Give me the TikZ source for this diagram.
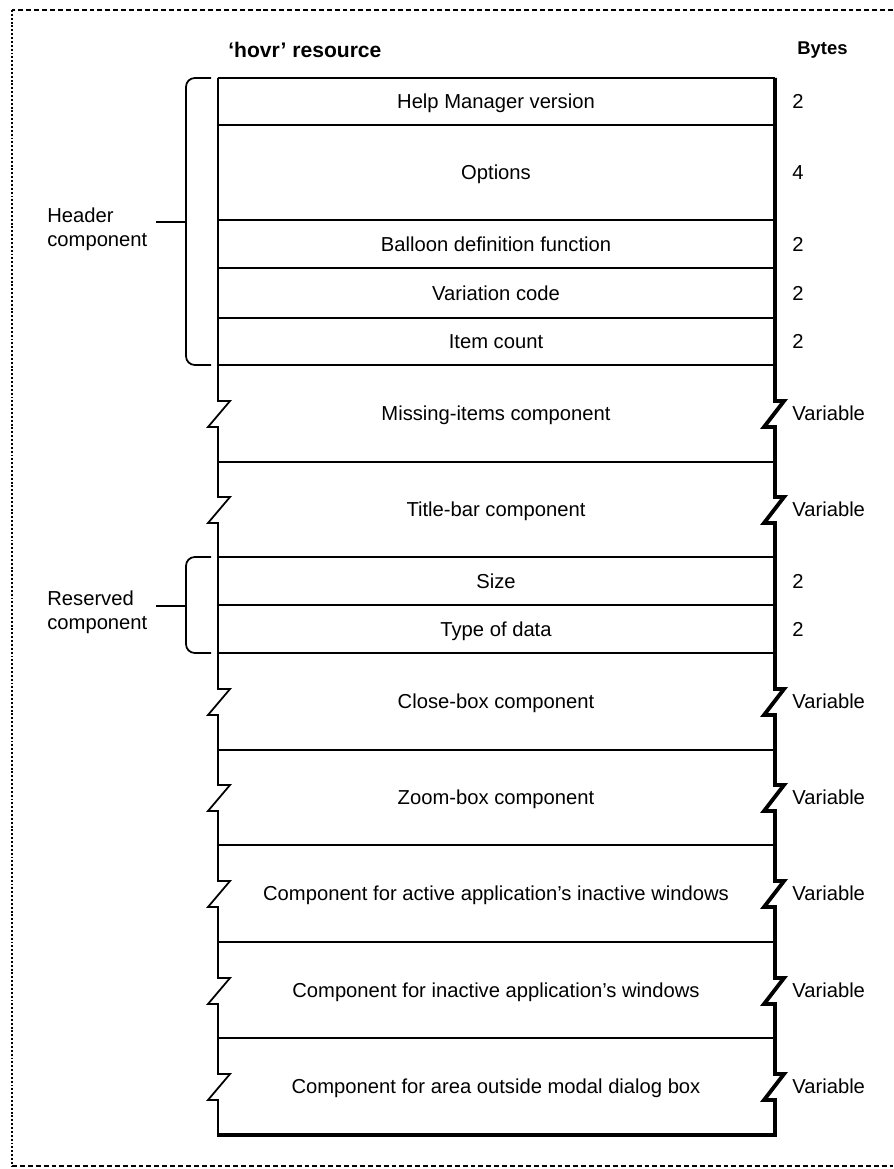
\documentclass[tikz,border=0pt]{standalone}
\usepackage{fontspec}
\setmainfont{Liberation Sans}
\begin{document}
\begin{tikzpicture}[x=0.02cm,y=-0.02cm,
    thin line/.style={line width=1pt},
    thick line/.style={line width=2.2pt},
    field/.style={font=\fontsize{11.5}{13.6}\selectfont, inner sep=0pt,
      text height=8.2pt, text depth=0pt},
    bytes/.style={field, anchor=west},
    side/.style={font=\fontsize{11.5}{13.6}\selectfont, align=left,
      anchor=west, inner sep=0pt},
    brace/.style={line width=1pt, rounded corners=5pt}]

  \useasboundingbox (0,0) rectangle (893,1169);

  % page frame
  \draw[line width=0.9pt, dash pattern=on 2.8pt off 1.7pt] (893,10) -- (12,10);
  \draw[line width=0.9pt, dash pattern=on 2.8pt off 1.7pt] (12,1166) -- (893,1166);
  \draw[line width=1.1pt, dash pattern=on 1.1pt off 1.1pt] (12,10) -- (12,1166);

  % column heads
  \node[anchor=west, inner sep=0pt, font=\fontsize{12}{14}\selectfont\bfseries]
    (res) at (228,50) {`hovr' resource};
  \node[anchor=west, inner sep=0pt, font=\fontsize{10.5}{12}\selectfont\bfseries]
    (byt) at (797,50) {Bytes};

  % record outline, broken where the length varies
  \draw[thin line] (218,78) -- (775,78);
  \draw[thin line] (218,78)
    \foreach \c in {413,509,701,797,893,990,1086} {
      -- (218,\c-12) -- ++(12,0) -- ++(-22,26) -- ++(10,0) }
    -- (218,1135);
  \draw[thick line] (775,78)
    \foreach \c in {413,509,701,797,893,990,1086} {
      -- (775,\c-12) -- ++(9,0) -- ++(-20,26) -- ++(11,0) }
    -- (775,1135) -- (217,1135);
  \foreach \y in {125,220,268,318,365,462,557,605,653,750,845,942,1038}
    \draw[thin line] (218,\y) -- (775,\y);

  % fields and their sizes
  \foreach \y/\nm/\txt/\b in {
      101/hmv/Help Manager version/2,
      172/opt/Options/4,
      244/bdf/Balloon definition function/2,
      293/vcd/Variation code/2,
      341/cnt/Item count/2,
      413/mis/Missing-items component/Variable,
      509/ttl/Title-bar component/Variable,
      581/siz/Size/2,
      629/typ/Type of data/2,
      701/clo/Close-box component/Variable,
      797/zoo/Zoom-box component/Variable,
      893/act/Component for active application's inactive windows/Variable,
      990/ina/Component for inactive application's windows/Variable,
      1086/mod/Component for area outside modal dialog box/Variable} {
    \node[field] (\nm) at (496,\y) {\txt};
    \node[bytes] (\nm-b) at (792,\y) {\b};
  }

  % component braces
  \node[side] (hdrlbl) at (47,229) {Header\\component};
  \draw[brace] (211,78) -- (186,78) -- (186,365) -- (211,365);
  \coordinate (hdr) at (186,222);
  \draw[thin line, shorten >=4.5pt] (hdr) -- (hdr -| hdrlbl.east);

  \node[side] (rsvlbl) at (47,612) {Reserved\\component};
  \draw[brace] (211,557) -- (186,557) -- (186,653) -- (211,653);
  \coordinate (rsv) at (186,606);
  \draw[thin line, shorten >=4.5pt] (rsv) -- (rsv -| hdrlbl.east);
\end{tikzpicture}
\end{document}
